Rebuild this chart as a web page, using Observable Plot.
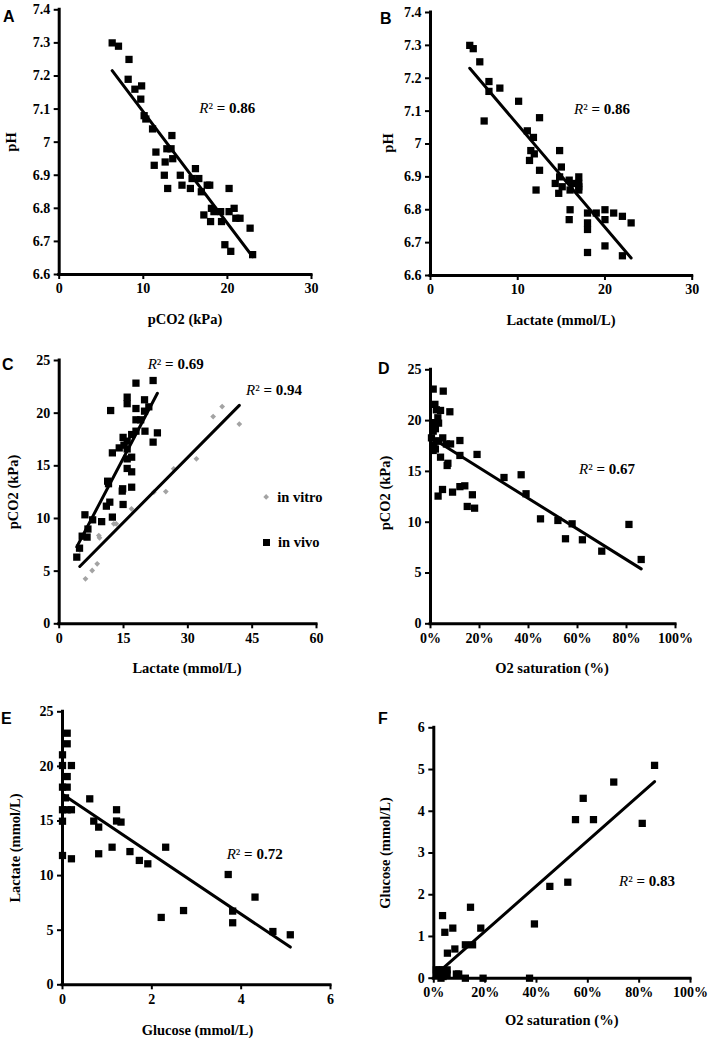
<!DOCTYPE html>
<html><head><meta charset="utf-8">
<script src="https://cdn.jsdelivr.net/npm/d3@7"></script>
<script src="https://cdn.jsdelivr.net/npm/@observablehq/plot@0.6"></script>
<style>
body{margin:0;background:#fff;}
#wrap{position:relative;width:709px;height:1038px;overflow:hidden;background:#fff;font-family:"Times New Roman","Liberation Serif","DejaVu Serif",serif;color:#000;}
.t{position:absolute;white-space:nowrap;font-weight:bold;font-size:14.5px;line-height:1;}
.c{transform:translate(-50%,-50%);}
.v{transform:translate(-50%,-50%) rotate(-90deg);}
.r2{position:absolute;white-space:nowrap;font-size:15px;line-height:1;transform:translateY(-50%);}
.r2 i{font-weight:normal;}
.r2 b{font-weight:bold;}
.letter{position:absolute;font-family:"Liberation Sans",Arial,sans-serif;font-weight:bold;font-size:16px;line-height:1;}
svg text{font-family:"Times New Roman","Liberation Serif","DejaVu Serif",serif !important;}
</style></head><body><div id="wrap"></div><script>
// ---------- Data ----------
// A: pH vs pCO2
const aPco2 = [6.3,7.05,8.3,8.2,9.0,9.8,9.7,10.1,10.3,11.1,13.4,11.5,12.8,13.3,13.5,11.3,12.6,12.5,14.4,14.6,12.9,16.2,15.6,15.8,16.6,16.9,17.6,17.9,17.2,18.1,18.0,18.4,19.2,19.3,20.2,20.2,20.8,21.0,21.5,19.7,20.4,22.7,23.0];
const aPh   = [7.30,7.29,7.25,7.19,7.16,7.17,7.13,7.08,7.07,7.04,7.02,6.97,6.98,6.98,6.95,6.93,6.94,6.90,6.90,6.87,6.86,6.92,6.86,6.89,6.89,6.85,6.87,6.87,6.78,6.80,6.76,6.79,6.79,6.76,6.86,6.79,6.80,6.77,6.77,6.69,6.67,6.74,6.66];
// B: pH vs lactate
const bLac = [4.5,4.9,5.65,6.7,6.7,7.95,6.15,10.1,12.5,11.1,11.8,11.5,11.9,11.35,12.5,12.1,14.8,15.0,14.8,14.3,14.7,15.1,15.9,16.0,17.0,17.0,17.0,16.0,15.9,18.0,18.0,18.0,18.0,19.0,20.0,20.0,21.0,22.0,23.0,20.0,22.0,16.3,17.0];
const bPh  = [7.30,7.29,7.25,7.19,7.16,7.17,7.07,7.13,7.08,7.04,7.02,6.98,6.97,6.95,6.92,6.86,6.98,6.93,6.90,6.88,6.85,6.87,6.89,6.86,6.90,6.88,6.86,6.80,6.77,6.79,6.76,6.74,6.67,6.79,6.80,6.77,6.79,6.78,6.76,6.69,6.66,6.88,6.87];
// C: pCO2 vs lactate, in vivo and in vitro
const cVivoLac  = [4.1,4.74,5.36,6.5,6.0,6.7,7.8,9.9,12.4,11.0,11.8,11.3,11.5,12.4,12.0,14.8,14.7,14.9,14.0,14.9,15.1,15.85,15.85,15.85,15.85,16.9,16.9,16.9,15.85,15.85,16.9,17.9,17.9,17.9,17.9,19.0,20.0,19.9,19.9,20.9,21.9,21.9,22.9];
const cVivoPco2 = [6.33,7.18,8.32,8.23,10.35,9.0,9.87,9.7,10.13,11.17,11.55,13.54,13.3,16.23,20.25,12.82,12.6,11.33,16.7,17.7,16.96,17.34,16.6,15.66,14.75,14.43,12.97,15.82,21.52,20.9,17.97,18.29,22.85,20.44,19.37,19.37,18.29,20.19,21.27,20.6,23.1,17.25,18.13];
const cVitroLac  = [4.8,6.13,7.69,8.86,9.24,9.4,12.73,13.3,16.86,22.06,24.86,26.7,32.0,35.9,38.0,42.0];
const cVitroPco2 = [7.0,4.27,5.06,5.70,8.38,8.16,9.49,9.49,10.92,12.5,12.56,14.72,15.67,19.68,20.63,18.96];
// D: pCO2 vs O2 saturation
const dSat  = [0.011,0.052,0.018,0.024,0.041,0.079,0.03,0.033,0.014,0.02,0.011,0.004,0.022,0.05,0.034,0.065,0.082,0.014,0.011,0.02,0.041,0.071,0.068,0.12,0.12,0.19,0.031,0.049,0.09,0.12,0.14,0.15,0.171,0.18,0.30,0.37,0.39,0.449,0.52,0.551,0.578,0.62,0.699,0.81,0.86];
const dPco2 = [23.1,22.9,21.6,21.06,21.0,20.87,20.28,19.75,19.8,19.2,18.96,18.3,18.0,18.3,17.98,17.7,17.7,17.55,17.06,17.2,16.4,15.8,15.58,18.04,16.57,16.67,12.57,13.22,12.96,13.5,13.58,11.55,12.7,11.38,14.4,14.67,12.8,10.33,10.17,8.37,9.84,8.27,7.15,9.78,6.33];
// E: lactate vs glucose
const eGlu = [0,0,0,0,0,0,0.105,0.105,0.105,0.105,0.067,0.105,0.20,0.20,0.20,0.61,0.70,0.81,0.81,1.11,1.21,1.21,1.31,1.51,1.72,1.91,2.31,2.21,2.71,3.71,3.81,3.81,4.31,4.71,5.10];
const eLac = [21.06,20.08,18.1,16.03,14.98,11.84,23.04,22.07,19.07,18.1,17.12,16.03,20.08,16.03,11.54,17.03,14.99,14.44,12.0,12.6,16.03,15.0,14.9,12.2,11.39,11.08,12.6,6.17,6.8,10.1,6.75,5.68,8.03,4.88,4.58];
// F: glucose vs O2 saturation
const fSat = [0.034,0.043,0.074,0.143,0.183,0.053,0.082,0.123,0.151,0.392,0.452,0.522,0.552,0.582,0.622,0.701,0.812,0.86,0.01,0.021,0.034,0.052,0.016,0.036,0.028,0.052,0.088,0.097,0.123,0.192,0.373];
const fGlu = [1.50,1.10,1.20,1.70,1.20,0.60,0.70,0.80,0.80,1.30,2.20,2.30,3.80,4.31,3.80,4.70,3.71,5.10,0.2,0.2,0.2,0.2,0.1,0.04,0,0.1,0.1,0.1,0,0,0];
// Axis ticks
const ticksPH = [6.6,6.7,6.8,6.9,7.0,7.1,7.2,7.3,7.4];
const ticks0to30 = [0,10,20,30];
const ticks0to25 = [0,5,10,15,20,25];
const ticks0to60 = [0,15,30,45,60];
const ticksPct = [0,0.2,0.4,0.6,0.8,1.0];
const ticks0to6 = [0,2,4,6];
const ticks0to6b = [0,1,2,3,4,5,6];
// R² values
const r2 = {A:"0.86", B:"0.86", Cvivo:"0.69", Cvitro:"0.94", D:"0.67", E:"0.72", F:"0.83"};

// ---------- Rendering ----------
const wrap = document.getElementById("wrap");
const fmtPH = d => d3.format(".1f")(d).replace(/\.0$/, "");
const fmtPct = d3.format(".0%");
const fmtInt = d => String(d);
const SERIF = '"Times New Roman","Liberation Serif","DejaVu Serif",serif';

function square(xs, ys) {
  return Plot.dot(xs, {x: xs, y: ys, symbol: "square", r: 4.1, fill: "black", stroke: "none"});
}
function trend(xs, ys) {
  return Plot.linearRegressionY(xs, {x: xs, y: ys, stroke: "black", strokeWidth: 3, ci: 0});
}

function panel(cfg) {
  const p = Plot.plot({
    width: cfg.width, height: cfg.height,
    marginLeft: cfg.ml, marginRight: cfg.mr, marginTop: cfg.mt, marginBottom: cfg.mb,
    x: {domain: cfg.xDomain},
    y: {domain: cfg.yDomain},
    style: {fontFamily: SERIF, fontSize: "14px", fontWeight: "bold", overflow: "visible", background: "transparent", color: "black"},
    marks: [
      Plot.axisX({ticks: cfg.xTicks, tickFormat: cfg.xFmt || fmtInt, tickSize: 5, tickPadding: 4, strokeWidth: 2, label: null, fontFamily: SERIF, fontWeight: "bold", fontSize: 14}),
      Plot.axisY({ticks: cfg.yTicks, tickFormat: cfg.yFmt || fmtInt, tickSize: 5, tickPadding: 4, strokeWidth: 2, label: null, fontFamily: SERIF, fontWeight: "bold", fontSize: 14}),
      ...cfg.marks,
      Plot.ruleX([cfg.xDomain[0]], {stroke: "black", strokeWidth: 3, strokeLinecap: "square"}),
      Plot.ruleY([cfg.yDomain[0]], {stroke: "black", strokeWidth: 3, strokeLinecap: "square"})
    ]
  });
  p.style.position = "absolute";
  p.style.left = cfg.left + "px";
  p.style.top = cfg.top + "px";
  wrap.appendChild(p);
}

function text(html, cls, x, y) {
  const el = document.createElement("div");
  el.className = cls;
  el.innerHTML = html;
  el.style.left = x + "px";
  el.style.top = y + "px";
  wrap.appendChild(el);
}
function r2label(val, x, y) {
  text(`<i>R</i>² <b>= ${val}</b>`, "r2", x, y);
}

// A
panel({left: 0, top: 0, width: 354, height: 330, ml: 58.7, mr: 43, mt: 9.3, mb: 56,
  xDomain: [0, 30], yDomain: [6.6, 7.4], xTicks: ticks0to30, yTicks: ticksPH, yFmt: fmtPH,
  marks: [square(aPco2, aPh), trend(aPco2, aPh)]});
// B
panel({left: 354, top: 0, width: 355, height: 330, ml: 76, mr: 17.3, mt: 12, mb: 55,
  xDomain: [0, 30], yDomain: [6.6, 7.4], xTicks: ticks0to30, yTicks: ticksPH, yFmt: fmtPH,
  marks: [square(bLac, bPh), trend(bLac, bPh)]});
// C
panel({left: 0, top: 330, width: 354, height: 345, ml: 58.7, mr: 38, mt: 30, mb: 51.7,
  xDomain: [0, 60], yDomain: [0, 25], xTicks: ticks0to60, yTicks: ticks0to25,
  marks: [
    Plot.dot(cVitroLac, {x: cVitroLac, y: cVitroPco2, symbol: "diamond2", r: 2.6, fill: "#a3a3a3", stroke: "none"}),
    square(cVivoLac, cVivoPco2),
    trend(cVitroLac, cVitroPco2),
    trend(cVivoLac, cVivoPco2)
  ]});
// D
panel({left: 354, top: 330, width: 355, height: 345, ml: 76, mr: 34, mt: 39.3, mb: 51.7,
  xDomain: [0, 1], yDomain: [0, 25], xTicks: ticksPct, xFmt: fmtPct, yTicks: ticks0to25,
  marks: [square(dSat, dPco2), trend(dSat, dPco2)]});
// E
panel({left: 0, top: 675, width: 354, height: 363, ml: 62, mr: 24, mt: 36.3, mb: 53.7,
  xDomain: [0, 6], yDomain: [0, 25], xTicks: ticks0to6, yTicks: ticks0to25,
  marks: [square(eGlu, eLac), trend(eGlu, eLac)]});
// F
panel({left: 354, top: 675, width: 355, height: 363, ml: 79.3, mr: 19, mt: 52.3, mb: 60.3,
  xDomain: [0, 1], yDomain: [0, 6], xTicks: ticksPct, xFmt: fmtPct, yTicks: ticks0to6b,
  marks: [square(fSat, fGlu), trend(fSat, fGlu)]});

// Panel letters
text("A", "letter", 3, 9);
text("B", "letter", 380, 11);
text("C", "letter", 2, 357);
text("D", "letter", 378, 361);
text("E", "letter", 1, 711);
text("F", "letter", 378, 711);

// Axis titles
text("pCO2 (kPa)", "t c", 185, 319);
text("pH", "t v", 10.5, 142);
text("Lactate (mmol/L)", "t c", 561, 320);
text("pH", "t v", 387.5, 143);
text("Lactate (mmol/L)", "t c", 187, 668);
text("pCO2 (kPa)", "t v", 13, 491.5);
text("O2 saturation (%)", "t c", 552, 668);
text("pCO2 (kPa)", "t v", 385, 493);
text("Glucose (mmol/L)", "t c", 197.5, 1030);
text("Lactate (mmol/L)", "t v", 14.5, 848);
text("O2 saturation (%)", "t c", 561.7, 1020);
text("Glucose (mmol/L)", "t v", 385, 852.5);

// R² annotations
r2label(r2.A, 199.3, 108);
r2label(r2.B, 574, 109);
r2label(r2.Cvivo, 147.7, 364);
r2label(r2.Cvitro, 246, 390);
r2label(r2.D, 579, 469);
r2label(r2.E, 226.7, 854);
r2label(r2.F, 619, 881);

// Legend (panel C)
const leg = document.createElement("div");
leg.style.cssText = "position:absolute;left:262px;top:489px;font-weight:bold;font-size:14.5px;line-height:1;";
leg.innerHTML =
  '<div style="display:flex;align-items:center;height:16px;"><span style="display:inline-block;width:4.3px;height:4.3px;background:#a3a3a3;transform:rotate(45deg);margin:0 9px 0 2px;"></span>in vitro</div>' +
  '<div style="display:flex;align-items:center;height:16px;margin-top:29px;"><span style="display:inline-block;width:7px;height:7px;background:#000;margin:0 8px 0 1px;"></span>in vivo</div>';
wrap.appendChild(leg);
</script></body></html>
